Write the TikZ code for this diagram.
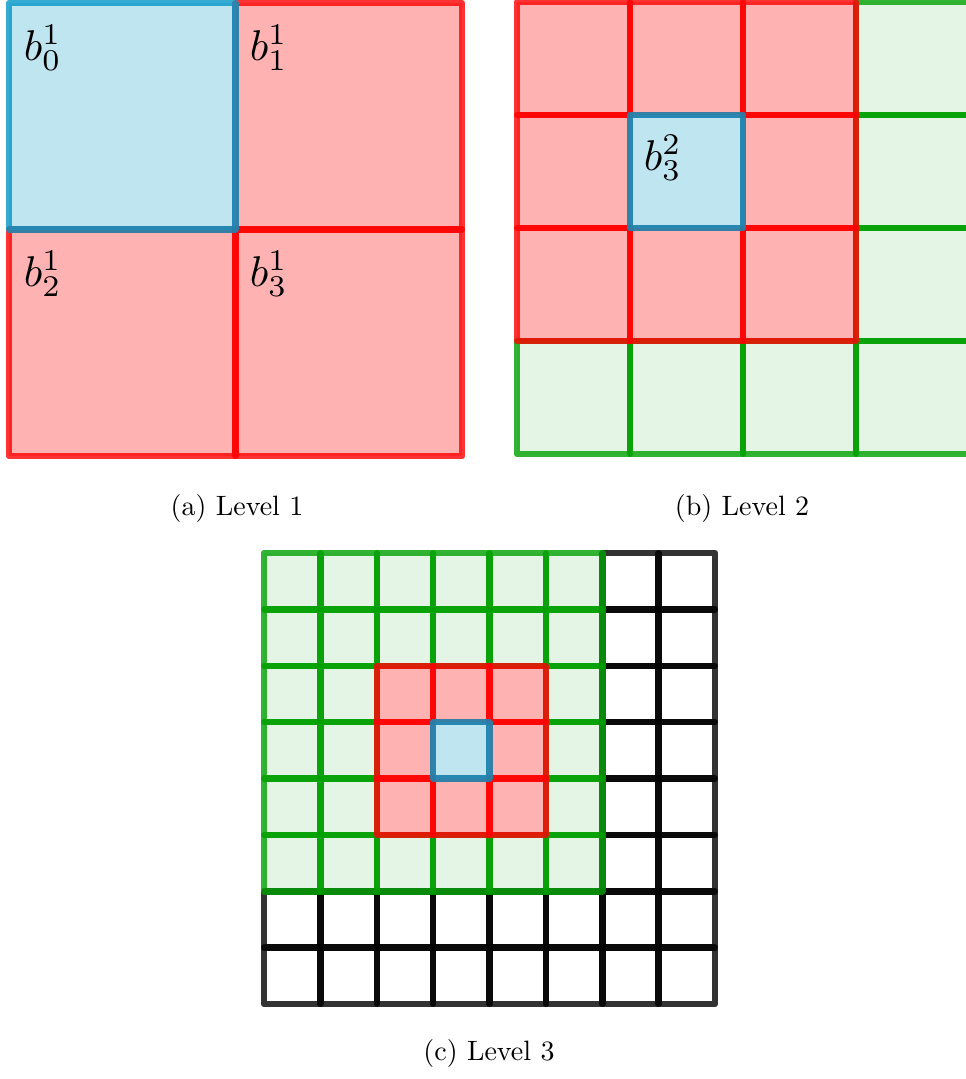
\documentclass[tikz,border=0pt]{standalone}
\definecolor{cred}{RGB}{255,0,0}
\definecolor{cblue}{RGB}{0,150,200}
\definecolor{cgreen}{RGB}{0,160,0}
\begin{document}
\begin{tikzpicture}[x=1pt,y=-1pt,line width=6.5pt,line cap=round,line join=round,
  redcell/.style={fill=cred,fill opacity=0.3,draw=cred,draw opacity=0.8},
  bluecell/.style={fill=cblue,fill opacity=0.25,draw=cblue,draw opacity=0.8},
  greencell/.style={fill=cgreen,fill opacity=0.1,draw=cgreen,draw opacity=0.8},
  blackcell/.style={draw=black,draw opacity=0.8},
  lbl/.style={anchor=base west,inner sep=0pt,scale=4.3},
  captext/.style={anchor=base,inner sep=0pt,scale=2.8}]
\useasboundingbox (0,0) rectangle (966,1079);
\clip (0,0) rectangle (966,1079);
% ---------- panel (a)
\foreach \i/\j in {1/0,0/1,1/1}
  \path[redcell] ({9+\i*226.5},{3+\j*226.5}) rectangle +(226.5,226.5);
\path[bluecell] (9,3) rectangle +(226.5,226.5);
\node[lbl] (b01) at (10,60) {$b^1_0$};
\node[lbl] (b11) at (236,60) {$b^1_1$};
\node[lbl] (b21) at (10,286) {$b^1_2$};
\node[lbl] (b31) at (236,286) {$b^1_3$};
\node[captext] (capa) at (237,515) {(a) Level 1};
% ---------- panel (b)
\foreach \i/\j in {3/0,3/1,3/2,0/3,1/3,2/3,3/3}
  \path[greencell] ({517+\i*113},{2+\j*113}) rectangle +(113,113);
\foreach \i/\j in {0/0,1/0,2/0,0/1,2/1,0/2,1/2,2/2}
  \path[redcell] ({517+\i*113},{2+\j*113}) rectangle +(113,113);
\path[bluecell] (630,115) rectangle +(113,113);
\node[lbl] (b32) at (630,170) {$b^2_3$};
\node[captext] (capb) at (742,515) {(b) Level 2};
% ---------- panel (c)
\def\cs{56.375}
\foreach \i in {6,7}{
  \foreach \j in {0,...,7}
    \path[blackcell] ({264+\i*\cs},{553+\j*\cs}) rectangle +(\cs,\cs);
}
\foreach \i in {0,...,5}{
  \foreach \j in {6,7}
    \path[blackcell] ({264+\i*\cs},{553+\j*\cs}) rectangle +(\cs,\cs);
}
\foreach \i in {0,...,5}{
  \foreach \j in {0,...,5}{
    \pgfmathtruncatemacro\inr{and(and(\i>1,\i<5),and(\j>1,\j<5))}
    \ifnum\inr=0
      \path[greencell] ({264+\i*\cs},{553+\j*\cs}) rectangle +(\cs,\cs);
    \fi
  }
}
\foreach \i/\j in {2/2,3/2,4/2,2/3,4/3,2/4,3/4,4/4}
  \path[redcell] ({264+\i*\cs},{553+\j*\cs}) rectangle +(\cs,\cs);
\path[bluecell] ({264+3*\cs},{553+3*\cs}) rectangle +(\cs,\cs);
\node[captext] (capc) at (489,1060) {(c) Level 3};
\end{tikzpicture}
\end{document}
